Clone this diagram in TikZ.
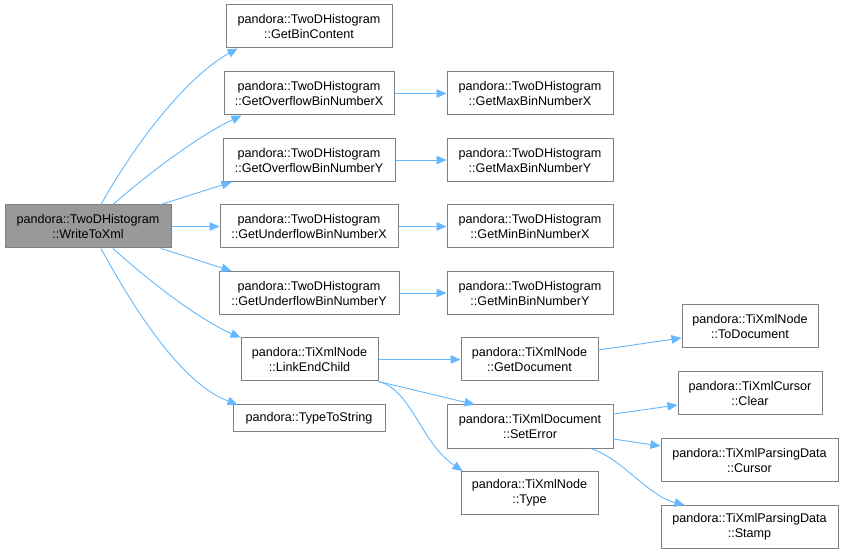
\documentclass[tikz,border=0pt]{standalone}
\usepackage{fontspec}
\setmainfont{Liberation Sans}
\usetikzlibrary{arrows.meta}
\definecolor{edgeblue}{HTML}{63B8FF}
\definecolor{boxgray}{HTML}{808080}
\definecolor{rootfill}{HTML}{999999}
\begin{document}
\begin{tikzpicture}[x=1pt,y=-1pt,
  fn/.style={draw=boxgray,line width=1pt,fill=white,rectangle,inner sep=0pt,minimum height=43pt,align=center,font=\fontsize{12.6}{15}\selectfont},
  root/.style={fn,fill=rootfill},
  edge/.style={draw=edgeblue,line width=0.9pt,-{Triangle[length=10pt,width=8.5pt]}}]
\useasboundingbox (0,0) rectangle (844,553);
\node[root,minimum width=166pt] (w) at (88,226.5) {pandora::TwoDHistogram\\::WriteToXml};
\node[fn,minimum width=166pt] (gbc) at (309,26.5) {pandora::TwoDHistogram\\::GetBinContent};
\node[fn,minimum width=170pt] (ofx) at (309,93.5) {pandora::TwoDHistogram\\::GetOverflowBinNumberX};
\node[fn,minimum width=172pt] (ofy) at (309,160) {pandora::TwoDHistogram\\::GetOverflowBinNumberY};
\node[fn,minimum width=178pt] (ufx) at (309,226.5) {pandora::TwoDHistogram\\::GetUnderflowBinNumberX};
\node[fn,minimum width=180pt] (ufy) at (309,293) {pandora::TwoDHistogram\\::GetUnderflowBinNumberY};
\node[fn,minimum width=137pt] (lec) at (309.5,359.5) {pandora::TiXmlNode\\::LinkEndChild};
\node[fn,minimum width=152pt,minimum height=27pt] (tts) at (309,418.5) {pandora::TypeToString};
\node[fn,minimum width=166pt] (maxx) at (530,93.5) {pandora::TwoDHistogram\\::GetMaxBinNumberX};
\node[fn,minimum width=166pt] (maxy) at (530,160) {pandora::TwoDHistogram\\::GetMaxBinNumberY};
\node[fn,minimum width=166pt] (minx) at (530,226.5) {pandora::TwoDHistogram\\::GetMinBinNumberX};
\node[fn,minimum width=166pt] (miny) at (530,293) {pandora::TwoDHistogram\\::GetMinBinNumberY};
\node[fn,minimum width=137pt] (gd) at (529.5,359.5) {pandora::TiXmlNode\\::GetDocument};
\node[fn,minimum width=166pt] (se) at (530,426.5) {pandora::TiXmlDocument\\::SetError};
\node[fn,minimum width=137pt] (typ) at (529.5,493) {pandora::TiXmlNode\\::Type};
\node[fn,minimum width=136pt] (td) at (750,326.5) {pandora::TiXmlNode\\::ToDocument};
\node[fn,minimum width=144pt] (clr) at (750,393) {pandora::TiXmlCursor\\::Clear};
\node[fn,minimum width=177pt] (cur) at (749.5,460) {pandora::TiXmlParsingData\\::Cursor};
\node[fn,minimum width=177pt] (stp) at (749.5,527) {pandora::TiXmlParsingData\\::Stamp};
% edges from root
\draw[edge] ([xshift=13pt]w.north) .. controls (140,135) and (190,75) .. ([xshift=12pt]gbc.south west);
\draw[edge] ([xshift=25pt]w.north) .. controls (150,172) and (200,135) .. ([xshift=18pt]ofx.south west);
\draw[edge] ([xshift=73pt]w.north) -- ([xshift=9pt]ofy.south west);
\draw[edge] (w.east) -- (ufx.west);
\draw[edge] ([xshift=73pt]w.south) -- ([xshift=13pt]ufy.north west);
\draw[edge] ([xshift=25pt]w.south) .. controls (150,282) and (200,320) .. (lec.north west);
\draw[edge] ([xshift=13pt]w.south) .. controls (140,320) and (185,385) .. ([xshift=5pt]tts.north west);
% second level
\draw[edge] (ofx.east) -- (maxx.west);
\draw[edge] (ofy.east) -- (maxy.west);
\draw[edge] (ufx.east) -- (minx.west);
\draw[edge] (ufy.east) -- (miny.west);
\draw[edge] (lec.east) -- (gd.west);
\draw[edge] (lec.south east) -- ([xshift=28pt]se.north west);
\draw[edge] (lec.south east) .. controls (412,390) and (420,442) .. ([xshift=2pt]typ.north west);
% third level
\draw[edge] ([yshift=9.5pt]gd.east) -- ([yshift=-11.5pt]td.west);
\draw[edge] ([yshift=12.5pt]se.east) -- ([yshift=-12pt]clr.west);
\draw[edge] ([yshift=-12.5pt]se.east) -- ([yshift=14pt]cur.west);
\draw[edge] ([xshift=-23pt]se.south east) .. controls (622,458) and (648,496) .. ([xshift=24pt]stp.north west);
\end{tikzpicture}
\end{document}
